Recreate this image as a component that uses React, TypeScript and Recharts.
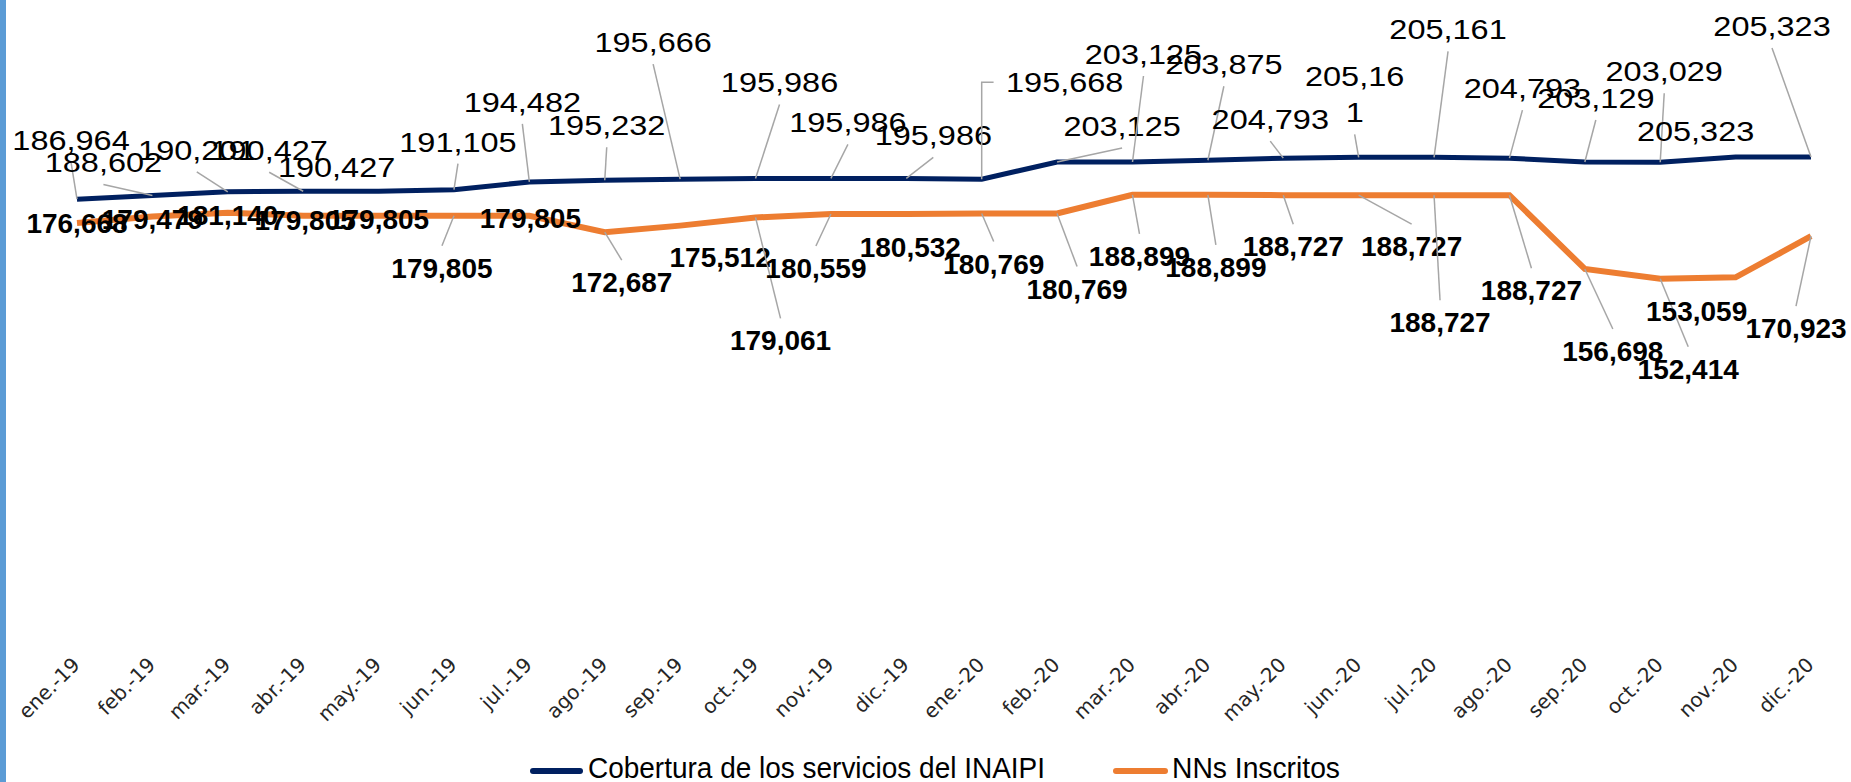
import { LineChart, Line, XAxis, YAxis, Legend, LabelList } from "recharts";

const months = [
  "ene.-19", "feb.-19", "mar.-19", "abr.-19", "may.-19", "jun.-19",
  "jul.-19", "ago.-19", "sep.-19", "oct.-19", "nov.-19", "dic.-19",
  "ene.-20", "feb.-20", "mar.-20", "abr.-20", "may.-20", "jun.-20",
  "jul.-20", "ago.-20", "sep.-20", "oct.-20", "nov.-20", "dic.-20",
];

const cobertura = [
  186964, 188602, 190201, 190427, 190427, 191105,
  194482, 195232, 195666, 195986, 195986, 195986,
  195668, 203125, 203125, 203875, 204793, 205161,
  205161, 204793, 203129, 203029, 205323, 205323,
];

const inscritos = [
  176668, 179479, 181140, 179805, 179805, 179805,
  179805, 172687, 175512, 179061, 180559, 180532,
  180769, 180769, 188899, 188899, 188727, 188727,
  188727, 188727, 156698, 152414, 153059, 170923,
];

const data = months.map((mes, i) => ({
  mes,
  cobertura: cobertura[i],
  inscritos: inscritos[i],
}));

// where each data label sits relative to its point: [dx, dy, leader]
// leader: 0 = none, 1 = straight to the box edge, 2 = elbow to the left side
const coberturaLabelPos = [
  [-6, -59, 1], [-49, -33, 1], [-31, -42, 1], [-34, -41, 1], [-42, -24, 0], [4, -48, 1],
  [-7, -80, 1], [2, -55, 1], [-27, -137, 1], [24, -96, 1], [17, -56, 1], [27, -43, 1],
  [83, -97, 2], [65, -36, 1], [11, -108, 1], [16, -96, 1], [-13, -39, 1], [-4, -63, 1],
  [14, -128, 1], [13, -70, 1], [11, -64, 1], [4, -91, 1], [-40, -26, 0], [-39, -131, 1],
];

const inscritosLabelPos = [
  [0, 0, 0], [0, 3, 0], [0, 2, 0], [2, 4, 0], [0, 3, 0], [-12, 52, 1],
  [1, 2, 0], [17, 50, 1], [40, 31, 0], [25, 123, 1], [-15, 54, 1], [4, 33, 0],
  [12, 50, 1], [20, 75, 1], [7, 61, 1], [8, 72, 1], [10, 51, 1], [53, 51, 1],
  [6, 127, 1], [22, 95, 1], [28, 82, 1], [28, 90, 1], [-39, 34, 0], [-15, 92, 1],
];

// the jun-20 label of the first series is wrapped by the box width
const coberturaWrap: Record<number, number> = { 17: 6 };

const LEADER = "#A6A6A6";

function makeLabel(
  pos: number[][],
  opts: { bold: boolean; stretch: number; wrap?: Record<number, number> }
) {
  return (props: any) => {
    const { x, y, value, index } = props;
    if (x == null || y == null) return null;
    const [dx, dy, leader] = pos[index];
    const fs = 28;
    const cx = x + dx;
    const cy = y + dy;
    const full = Number(value).toLocaleString("en-US");
    const cut = opts.wrap ? opts.wrap[index] : undefined;
    const lines = cut ? [full.slice(0, cut), full.slice(cut)] : [full];
    const lh = 36;
    const hw = (full.length * 0.52 * fs * opts.stretch) / 2;
    const hh = 22 + ((lines.length - 1) * lh) / 2;

    let lead = null;
    if (leader === 1) {
      const ey = dy < 0 ? cy + hh : cy - hh;
      lead = <line x1={x} y1={y} x2={cx} y2={ey} stroke={LEADER} strokeWidth={1.5} />;
    } else if (leader === 2) {
      const ex = cx - hw - 12;
      lead = (
        <polyline
          points={`${x},${y} ${x},${cy} ${ex},${cy}`}
          fill="none"
          stroke={LEADER}
          strokeWidth={1.5}
        />
      );
    }

    return (
      <g>
        {lead}
        {lines.map((t, k) => (
          <g
            key={k}
            transform={`translate(${cx} ${cy - ((lines.length - 1) * lh) / 2 + k * lh}) scale(${opts.stretch} 1)`}
          >
            <text
              x={0}
              y={10}
              textAnchor="middle"
              fontFamily="'Liberation Sans', Arial, sans-serif"
              fontWeight={opts.bold ? 700 : 400}
              fontSize={fs}
              fill="#000"
            >
              {t}
            </text>
          </g>
        ))}
      </g>
    );
  };
}

const MonthTick = (props: any) => {
  const { x, y, payload } = props;
  const tx = x + 4;
  const ty = y + 36;
  return (
    <text
      x={tx}
      y={ty}
      textAnchor="end"
      transform={`rotate(-45 ${tx} ${ty})`}
      fontFamily="'DejaVu Sans', Verdana, sans-serif"
      fontSize={20}
      fill="#262626"
    >
      {payload.value}
    </text>
  );
};

const LegendRow = () => (
  <svg width={1851} height={40} style={{ display: "block" }}>
    <line x1={533} x2={580} y1={29} y2={29} stroke="#002060" strokeWidth={6} strokeLinecap="round" />
    <text
      x={588}
      y={36}
      fontFamily="'Liberation Sans Narrow', 'Liberation Sans', sans-serif"
      fontSize={30}
      textLength={457}
      lengthAdjust="spacingAndGlyphs"
      fill="#000"
    >
      Cobertura de los servicios del INAIPI
    </text>
    <line x1={1116} x2={1165} y1={29} y2={29} stroke="#ED7D31" strokeWidth={6} strokeLinecap="round" />
    <text
      x={1172}
      y={36}
      fontFamily="'Liberation Sans Narrow', 'Liberation Sans', sans-serif"
      fontSize={30}
      textLength={168}
      lengthAdjust="spacingAndGlyphs"
      fill="#000"
    >
      NNs Inscritos
    </text>
  </svg>
);

export default function App() {
  return (
    <div
      style={{
        position: "absolute",
        left: 0,
        top: 0,
        width: 1851,
        height: 782,
        background: "#fff",
        overflow: "hidden",
      }}
    >
      <div
        style={{
          position: "absolute",
          left: 0,
          top: 0,
          width: 6,
          height: 782,
          background: "#5B9BD5",
        }}
      />
      <LineChart
        width={1851}
        height={782}
        data={data}
        margin={{ top: 54, right: 40, bottom: 0, left: 77 }}
      >
        <XAxis
          dataKey="mes"
          height={112}
          axisLine={false}
          tickLine={false}
          tickSize={0}
          tickMargin={0}
          interval={0}
          tick={<MonthTick />}
        />
        <YAxis hide domain={[0, 250000]} />
        <Legend
          verticalAlign="bottom"
          height={40}
          wrapperStyle={{ left: 0, width: 1851 }}
          content={() => <LegendRow />}
        />
        <Line
          type="linear"
          dataKey="cobertura"
          name="Cobertura de los servicios del INAIPI"
          stroke="#002060"
          strokeWidth={5}
          dot={false}
          activeDot={false}
          isAnimationActive={false}
        >
          <LabelList
            dataKey="cobertura"
            content={makeLabel(coberturaLabelPos, { bold: false, stretch: 1.16, wrap: coberturaWrap })}
          />
        </Line>
        <Line
          type="linear"
          dataKey="inscritos"
          name="NNs Inscritos"
          stroke="#ED7D31"
          strokeWidth={6}
          dot={false}
          activeDot={false}
          isAnimationActive={false}
        >
          <LabelList
            dataKey="inscritos"
            content={makeLabel(inscritosLabelPos, { bold: true, stretch: 1, wrap: undefined })}
          />
        </Line>
      </LineChart>
    </div>
  );
}
